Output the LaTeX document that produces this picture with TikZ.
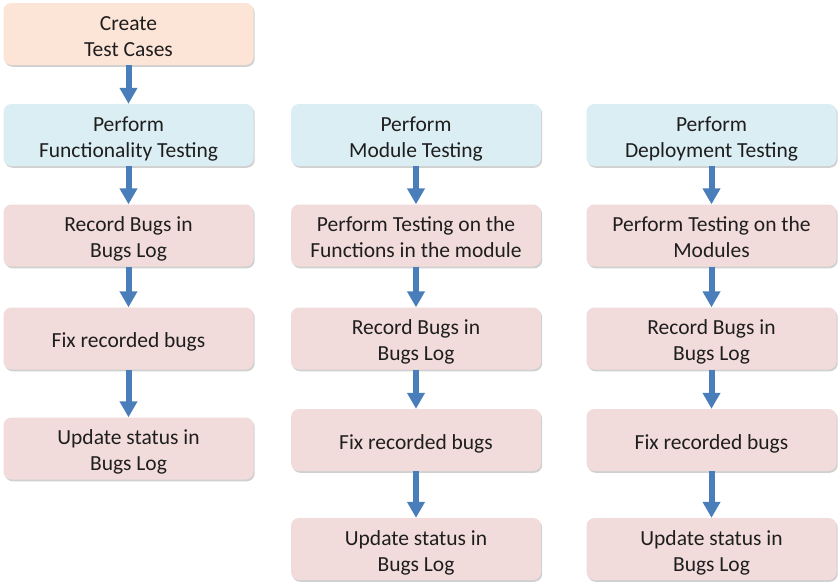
\documentclass[tikz,border=0pt]{standalone}
\usepackage{fontspec}
\setmainfont{Carlito}
\usetikzlibrary{arrows.meta,shadows}
\definecolor{peachfill}{RGB}{252,228,214}
\definecolor{bluefill}{RGB}{219,238,244}
\definecolor{pinkfill}{RGB}{242,220,219}
\definecolor{arrowblue}{RGB}{74,126,187}
\definecolor{txt}{RGB}{30,30,30}
\newcommand\ms{\rule[-4pt]{0pt}{26pt}}
\tikzset{
  stepbox/.style={rectangle, rounded corners=8pt, minimum width=250pt, minimum height=62pt,
    inner sep=0pt, align=center, text=txt, font=\fontsize{21.5}{26}\selectfont,
    drop shadow={shadow xshift=1.2pt, shadow yshift=-1.8pt, opacity=0.3, fill=black!60}},
  startbox/.style={stepbox, fill=peachfill},
  phasebox/.style={stepbox, fill=bluefill},
  taskbox/.style={stepbox, fill=pinkfill},
  flow/.style={draw=arrowblue, line width=6pt, -{Triangle[width=17pt,length=16pt]}}
}
\begin{document}
\begin{tikzpicture}[x=1pt,y=-1pt]
\useasboundingbox[fill=white] (0,0) rectangle (840,587);
% column 1
\node[startbox] (c1) at (128.5,34) {\ms Create\\\ms Test Cases};
\node[phasebox] (f1) at (128.5,135) {\ms Perform\\\ms Functionality Testing};
\node[taskbox] (r1) at (128.5,235.5) {\ms Record Bugs in\\\ms Bugs Log};
\node[taskbox] (x1) at (128.5,338.5) {\ms Fix recorded bugs};
\node[taskbox] (u1) at (128.5,448.5) {\ms Update status in\\\ms Bugs Log};
% column 2
\node[phasebox] (m2) at (416,135) {\ms Perform\\\ms Module Testing};
\node[taskbox] (t2) at (416,235.5) {\ms Perform Testing on the\\\ms Functions in the module};
\node[taskbox] (r2) at (416,338.5) {\ms Record Bugs in\\\ms Bugs Log};
\node[taskbox] (x2) at (416,440) {\ms Fix recorded bugs};
\node[taskbox] (u2) at (416,549) {\ms Update status in\\\ms Bugs Log};
% column 3
\node[phasebox] (d3) at (711.5,135) {\ms Perform\\\ms Deployment Testing};
\node[taskbox] (t3) at (711.5,235.5) {\ms Perform Testing on the\\\ms Modules};
\node[taskbox] (r3) at (711.5,338.5) {\ms Record Bugs in\\\ms Bugs Log};
\node[taskbox] (x3) at (711.5,440) {\ms Fix recorded bugs};
\node[taskbox] (u3) at (711.5,549) {\ms Update status in\\\ms Bugs Log};
% connectors
\draw[flow] (c1) -- (f1);
\draw[flow] (f1) -- (r1);
\draw[flow] (r1) -- (x1);
\draw[flow] (x1) -- (u1);
\draw[flow] (m2) -- (t2);
\draw[flow] (t2) -- (r2);
\draw[flow] (r2) -- (x2);
\draw[flow] (x2) -- (u2);
\draw[flow] (d3) -- (t3);
\draw[flow] (t3) -- (r3);
\draw[flow] (r3) -- (x3);
\draw[flow] (x3) -- (u3);
\end{tikzpicture}
\end{document}
